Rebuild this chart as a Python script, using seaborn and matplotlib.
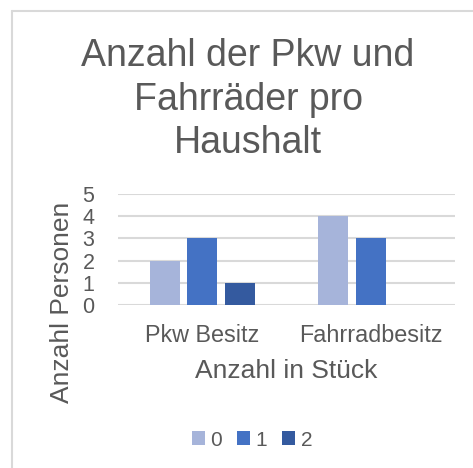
import matplotlib
matplotlib.use('Agg')
import matplotlib.pyplot as plt
import seaborn as sns
import pandas as pd
from matplotlib.lines import Line2D

# data
categories = ['Pkw Besitz', 'Fahrradbesitz']
hue_levels = ['0', '1', '2']
counts_0 = [2, 4]
counts_1 = [3, 3]
counts_2 = [1, 0]
colors = ['#A6B4DA', '#4472C4', '#345A9F']

title_lines = ['Anzahl der Pkw und', 'Fahrräder pro', 'Haushalt']

df = pd.DataFrame({
    'Kategorie': categories * 3,
    'Anzahl': hue_levels[0:1] * 2 + hue_levels[1:2] * 2 + hue_levels[2:3] * 2,
    'Personen': counts_0 + counts_1 + counts_2,
})

sns.set_style('white')
plt.rcParams['font.family'] = ['Liberation Sans', 'DejaVu Sans']
text_color = '#595959'
grid_color = '#D9D9D9'

W, H = 473, 468
fig = plt.figure(figsize=(W / 100, H / 100), dpi=100)
ax = fig.add_axes([118 / W, 1 - 305 / H, 337 / W, 111 / H])

sns.barplot(data=df, x='Kategorie', y='Personen', hue='Anzahl', order=categories,
            hue_order=hue_levels, palette=colors, saturation=1, width=0.668, gap=0.2,
            linewidth=0, ax=ax)

ax.set_ylim(0, 5)
ax.set_yticks(range(6))
ax.yaxis.grid(True, color=grid_color, linewidth=1.5)
ax.set_axisbelow(True)
for s in ax.spines.values():
    s.set_visible(False)
ax.tick_params(axis='y', length=0, pad=17, labelsize=15.5, labelcolor=text_color)
ax.tick_params(axis='x', length=0, pad=14, labelsize=16.8, labelcolor=text_color)
ax.set_xlabel('')
ax.set_ylabel('')

# axis titles
fig.text(286.5 / W, 1 - 378 / H, 'Anzahl in Stück', ha='center', va='baseline',
         fontsize=19, color=text_color)
fig.text(62 / W, 1 - 302 / H, 'Anzahl Personen', ha='center', va='center',
         rotation=90, fontsize=19, color=text_color)

# chart title
for i, line in enumerate(title_lines):
    fig.text(248 / W, 1 - (66 + 43.5 * i) / H, line, ha='center', va='baseline',
             fontsize=27, color=text_color)

# legend at the bottom
handles, labels = ax.get_legend_handles_labels()
ax.legend(handles, labels, loc='center', bbox_to_anchor=(252 / W, 1 - 440 / H),
          bbox_transform=fig.transFigure, ncol=3, frameon=False, fontsize=15,
          handlelength=0.65, handleheight=0.65, handletextpad=0.25,
          columnspacing=0.7, labelcolor=text_color)

# chart frame (only left and top edges are visible)
fig.add_artist(Line2D([12 / W, 12 / W], [1 - 11 / H, 0], transform=fig.transFigure,
                      color=grid_color, linewidth=1.5))
fig.add_artist(Line2D([12 / W, 1], [1 - 11 / H, 1 - 11 / H], transform=fig.transFigure,
                      color=grid_color, linewidth=1.5))

fig.savefig('out.png', dpi=100)
